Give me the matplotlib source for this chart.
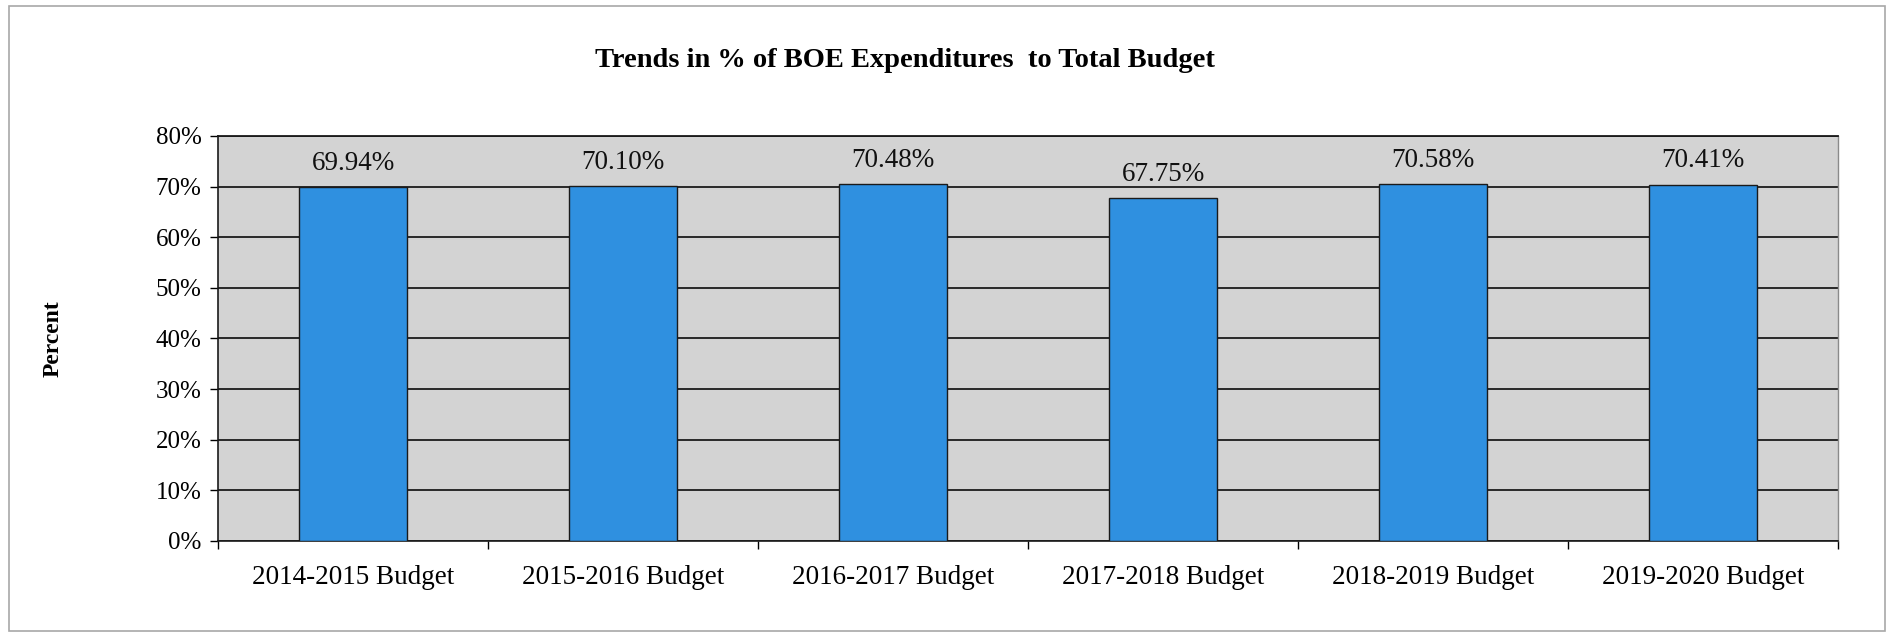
import numpy as np
import matplotlib
matplotlib.use("Agg")
from matplotlib import pyplot as plt
from matplotlib.patches import Rectangle
from matplotlib.ticker import MultipleLocator, FuncFormatter

categories = ["2014-2015 Budget", "2015-2016 Budget", "2016-2017 Budget",
              "2017-2018 Budget", "2018-2019 Budget", "2019-2020 Budget"]
pct = [69.94, 70.10, 70.48, 67.75, 70.58, 70.41]
labels = ["69.94%", "70.10%", "70.48%", "67.75%", "70.58%", "70.41%"]

plt.rcParams['font.family'] = ['Liberation Serif', 'DejaVu Serif']

fig = plt.figure(figsize=(18.98, 6.36), dpi=100)
fig.patch.set_facecolor("white")
# thin frame round the whole chart
fig.patches.append(Rectangle((0.005, 0.008), 0.988, 0.982, transform=fig.transFigure,
                             fill=False, edgecolor="#a8a8a8", linewidth=1.2))

ax = fig.add_axes([0.1149, 0.1494, 0.8535, 0.6368])
ax.set_facecolor("#d3d3d3")

x = np.arange(len(categories))
ax.bar(x, pct, width=0.4, color="#2f90e0", edgecolor="#1a1a1a", linewidth=1.0, zorder=3)

for xi, v, lab in zip(x, pct, labels):
    ax.annotate(lab, (xi, v), xytext=(0, 8), textcoords="offset points",
                ha="center", va="bottom", fontsize=19.5, color="#111111")

ax.set_xlim(-0.5, len(categories) - 0.5)
ax.set_ylim(0, 80)
ax.yaxis.set_major_locator(MultipleLocator(10))
ax.yaxis.set_major_formatter(FuncFormatter(lambda v, p: f"{v:.0f}%"))
ax.grid(axis="y", color="#1a1a1a", linewidth=1.3, zorder=1)
ax.set_axisbelow(True)

ax.set_xticks(x)
ax.set_xticklabels(categories, fontsize=19.5)
ax.set_xticks(np.arange(len(categories) + 1) - 0.5, minor=True)
ax.tick_params(axis="x", which="major", length=0, pad=17)
ax.tick_params(axis="x", which="minor", length=6, width=1, direction="out")
ax.tick_params(axis="y", length=6, width=1, labelsize=18, pad=6)

for s in ["left", "bottom"]:
    ax.spines[s].set_color("#1a1a1a")
    ax.spines[s].set_linewidth(1.2)
ax.spines["top"].set_color("#1a1a1a")
ax.spines["top"].set_linewidth(1.3)
ax.spines["right"].set_color("#8a8a8a")
ax.spines["right"].set_linewidth(1.0)

ax.set_ylabel("Percent", fontsize=17, fontweight="bold", labelpad=66)
fig.text(0.477, 0.905, "Trends in % of BOE Expenditures  to Total Budget",
         ha="center", va="center", fontsize=20.5, fontweight="bold")

fig.savefig("out.png", dpi=100)
